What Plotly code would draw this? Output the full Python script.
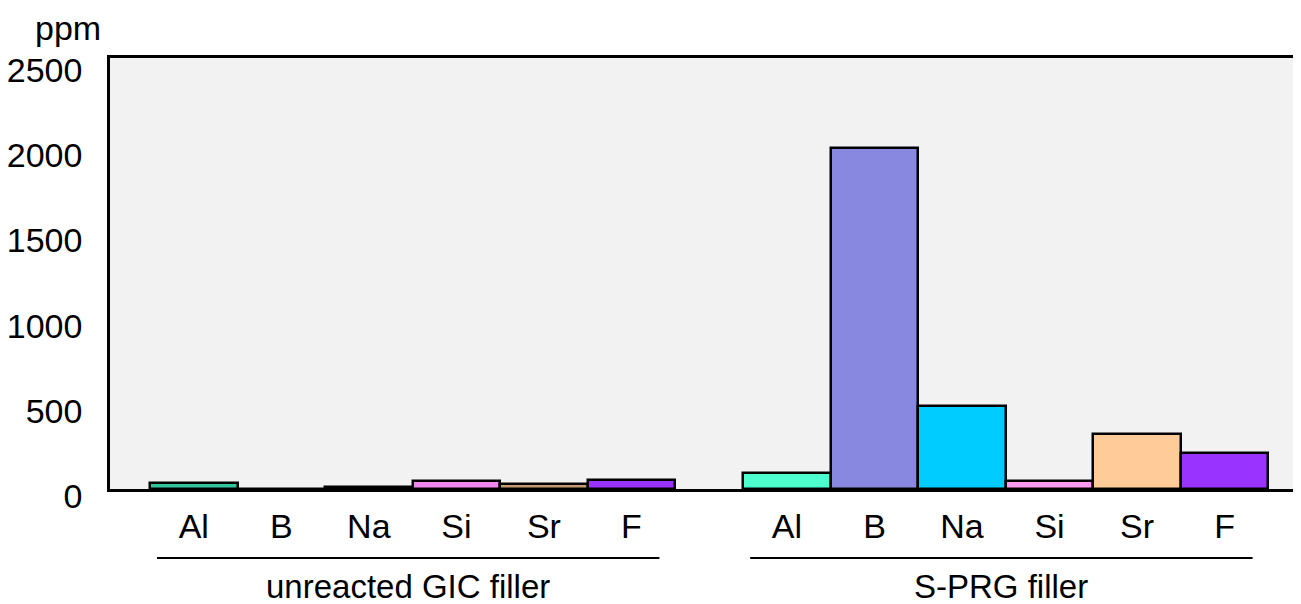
import plotly.graph_objects as go

elements = ["Al", "B", "Na", "Si", "Sr", "F"]
groups = ["unreacted GIC filler", "S-PRG filler"]
gic_values = [35, 0, 14, 45, 30, 52]
sprg_values = [95, 2000, 490, 48, 322, 210]
colors = ["#4dffcc", "#8888e0", "#00ccff", "#ff99ee", "#ffcc99", "#9933ff"]
gic_colors = ["#33c49e", "#8888e0", "#00ccff", "#ee88ee", "#c49a70", "#9933ff"]
y_ticks = [0, 500, 1000, 1500, 2000, 2500]

GAP = 0.777  # gap between groups in bar widths
x1 = list(range(len(elements)))
x2 = [i + len(elements) + GAP for i in range(len(elements))]

fig = go.Figure()
fig.add_trace(go.Bar(x=x1, y=gic_values, width=1.0,
                     marker=dict(color=gic_colors, line=dict(color="black", width=2.5)),
                     showlegend=False))
fig.add_trace(go.Bar(x=x2, y=sprg_values, width=1.0,
                     marker=dict(color=colors, line=dict(color="black", width=2.5)),
                     showlegend=False))

font = "Liberation Sans, Arial, sans-serif"

# page body has an 8px margin; compensate so the plot lands where the reference is
fig.update_layout(
    width=1293, height=596,
    margin=dict(l=102, r=0, t=50, b=115),
    paper_bgcolor="white", plot_bgcolor="#f2f2f2",
    font=dict(family=font, color="black", size=34),
    bargap=0,
    xaxis=dict(range=[-0.957, 12.65], tickvals=x1 + x2, ticktext=elements + elements,
               showline=True, mirror=True, linecolor="black", linewidth=2.5,
               showgrid=False, zeroline=False, ticks="outside", ticklen=5,
               tickcolor="rgba(0,0,0,0)", tickfont=dict(size=34)),
    yaxis=dict(range=[0, 2530], tickvals=y_ticks, ticktext=[str(v) for v in y_ticks],
               showline=True, linecolor="black", linewidth=2.5, showgrid=False,
               zeroline=False, ticks="", ticklabelstandoff=18, ticklabelshift=7,
               tickfont=dict(size=34)),
)

# group underline and labels
for gi, (xs, name) in enumerate([(x1, groups[0]), (x2, groups[1])]):
    x0 = xs[0] - 0.42
    x1e = xs[-1] + 0.32
    fig.add_shape(type="line", xref="x", yref="paper", x0=x0, x1=x1e,
                  y0=-0.16, y1=-0.16, line=dict(color="black", width=2))
    fig.add_annotation(xref="x", yref="paper", x=(x0 + x1e) / 2, y=-0.226,
                       text=name, showarrow=False, font=dict(size=33),
                       yanchor="middle")

fig.add_annotation(xref="paper", yref="paper", x=-0.0353, y=1.07, text="ppm",
                   showarrow=False, font=dict(size=34), xanchor="center",
                   yanchor="middle")

fig.write_html("out.html")
